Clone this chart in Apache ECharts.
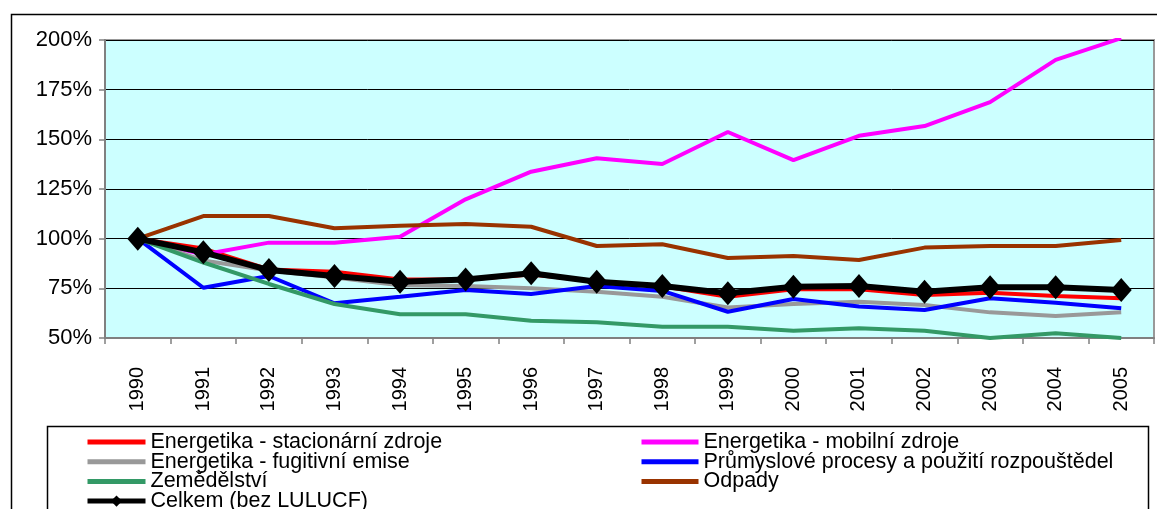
<!DOCTYPE html>
<html>
<head>
<meta charset="utf-8">
<script src="https://cdn.jsdelivr.net/npm/echarts@6/dist/echarts.min.js"></script>
<style>
  html, body { margin: 0; padding: 0; background: #ffffff; }
  #chart { width: 1157px; height: 509px; }
</style>
</head>
<body>
<div id="chart"></div>
<script>
// Emise skleníkových plynů podle sektorů, index vůči roku 1990 (= 100 %)
const years = ['1990','1991','1992','1993','1994','1995','1996','1997','1998','1999','2000','2001','2002','2003','2004','2005'];

const stacionarni = [100, 95, 84.5, 83.4, 79.5, 79.5, 82, 78.5, 76, 70.8, 74.5, 74.5, 71.6, 72.8, 71.1, 70];
const mobilni     = [100, 92, 98, 98, 101, 119.8, 133.7, 140.5, 137.6, 153.7, 139.5, 151.8, 156.7, 168.7, 190, 200.9];
const fugitivni   = [100, 89, 84, 80.5, 76.5, 76.2, 75, 73.3, 70.8, 65.4, 67.1, 68.3, 66.6, 62.9, 61.1, 62.9];
const prumysl     = [100, 75.3, 81.2, 67.5, 70.8, 74.2, 72.2, 76.2, 73.7, 63.2, 69.6, 65.8, 64.1, 70, 67.8, 65];
const zemedelstvi = [100, 88, 77.2, 67.1, 62, 62, 58.7, 57.9, 55.7, 55.7, 53.7, 54.9, 53.7, 50, 52.4, 50];
const odpady      = [100, 111.4, 111.4, 105.2, 106.5, 107.4, 106, 96.3, 97.2, 90.3, 91.3, 89.3, 95.5, 96.3, 96.3, 99.3];
const celkem      = [100, 93.1, 84.2, 81.2, 78.3, 79.5, 82.6, 78.3, 76.2, 72.5, 75.8, 76.2, 73.3, 75.5, 75.5, 74.2];

const yTicks = { min: 50, max: 200, step: 25 };

const names = {
  stac: 'Energetika - stacionární zdroje',
  mob: 'Energetika - mobilní zdroje',
  fug: 'Energetika - fugitivní emise',
  prum: 'Průmyslové procesy a použití rozpouštědel',
  zem: 'Zemědělství',
  odp: 'Odpady',
  cel: 'Celkem (bez LULUCF)'
};

const FONT = '"Liberation Sans", Arial, sans-serif';

function lineSeries(name, data, color, width) {
  return {
    name: name,
    type: 'line',
    data: data,
    symbol: 'none',
    lineStyle: { color: color, width: width },
    itemStyle: { color: color },
    emphasis: { disabled: true },
    animation: false
  };
}

// legend entry showing only the line sample (no marker)
function plainEntry(name) {
  return { name: name, itemStyle: { opacity: 0 } };
}

const legendText = { color: '#000', fontFamily: FONT, fontSize: 21.5, lineHeight: 20 };

const option = {
  animation: false,
  grid: {
    left: 105, top: 40, right: 3, bottom: 171,
    show: true,
    backgroundColor: '#CCFFFF',
    borderColor: '#999999',
    borderWidth: 2
  },
  graphic: [
    { type: 'rect', left: 9, top: 12, shape: { width: 1300, height: 700 },
      style: { fill: 'none', stroke: '#000', lineWidth: 1.5 }, silent: true },
    { type: 'rect', left: 45, top: 424, shape: { width: 1101, height: 200 },
      style: { fill: 'none', stroke: '#000', lineWidth: 1.5 }, silent: true }
  ],
  legend: [
    {
      left: 85, top: 431, height: 120, orient: 'vertical', padding: 0,
      itemWidth: 58, itemHeight: 14, itemGap: -2.3,
      selectedMode: false,
      lineStyle: { width: 5 },
      textStyle: legendText,
      data: [plainEntry(names.stac), plainEntry(names.fug), plainEntry(names.zem), names.cel]
    },
    {
      left: 639, top: 431, height: 120, orient: 'vertical', padding: 0,
      itemWidth: 57, itemHeight: 14, itemGap: -2.3,
      selectedMode: false,
      lineStyle: { width: 5 },
      textStyle: legendText,
      data: [plainEntry(names.mob), plainEntry(names.prum), plainEntry(names.odp)]
    }
  ],
  xAxis: {
    type: 'category',
    data: years,
    boundaryGap: true,
    axisLine: { lineStyle: { color: '#808080', width: 2 } },
    axisTick: { show: true, length: 6, interval: 0, lineStyle: { color: '#808080', width: 1.5 } },
    axisLabel: {
      interval: 0, rotate: 90, margin: 29,
      color: '#000', fontFamily: FONT, fontSize: 20
    },
    splitLine: { show: false }
  },
  yAxis: {
    type: 'value',
    min: yTicks.min, max: yTicks.max, interval: yTicks.step,
    axisLine: { show: true, lineStyle: { color: '#808080', width: 2 } },
    axisTick: { show: true, length: 6, lineStyle: { color: '#808080', width: 1.5 } },
    axisLabel: {
      margin: 13, color: '#000', fontFamily: FONT, fontSize: 22,
      formatter: '{value}%'
    },
    splitLine: { lineStyle: { color: '#000', width: 1 } }
  },
  series: [
    lineSeries(names.stac, stacionarni, '#FF0000', 4),
    lineSeries(names.mob, mobilni, '#FF00FF', 4),
    lineSeries(names.fug, fugitivni, '#999999', 4),
    lineSeries(names.prum, prumysl, '#0000FF', 4),
    lineSeries(names.zem, zemedelstvi, '#339966', 4),
    lineSeries(names.odp, odpady, '#993300', 4),
    {
      name: names.cel,
      type: 'line',
      data: celkem,
      symbol: 'diamond',
      symbolSize: [21, 24],
      lineStyle: { color: '#000', width: 6 },
      itemStyle: { color: '#000' },
      emphasis: { disabled: true },
      z: 5,
      animation: false
    }
  ]
};

const chart = echarts.init(document.getElementById('chart'), null, { renderer: 'canvas' });
chart.setOption(option);
</script>
</body>
</html>
